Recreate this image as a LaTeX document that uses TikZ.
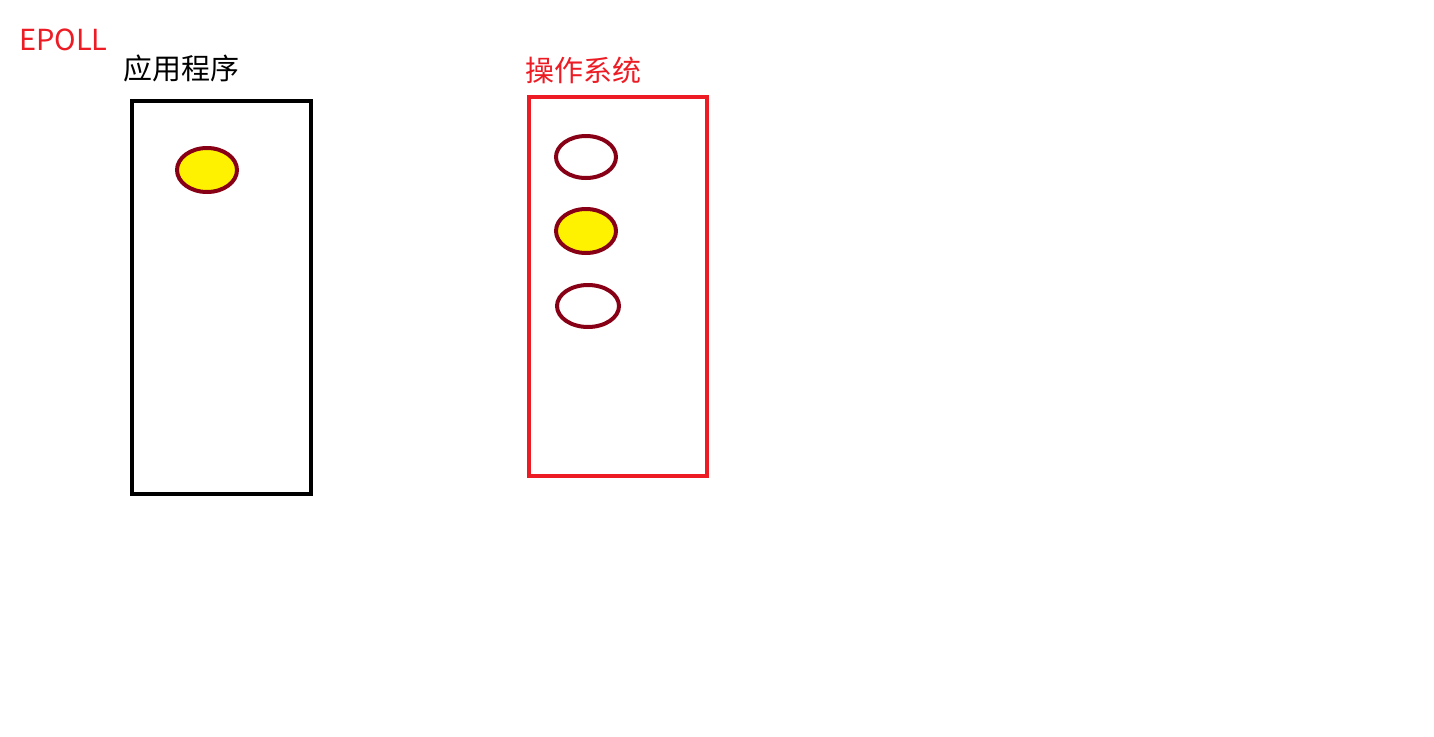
\documentclass[tikz,border=0pt]{standalone}
\usepackage{fontspec}
\usetikzlibrary{shapes.geometric}
\setmainfont{Noto Sans CJK SC}
\definecolor{pred}{HTML}{ED1C24}
\definecolor{dred}{HTML}{880015}
\definecolor{pyel}{HTML}{FFF200}
\begin{document}
\begin{tikzpicture}[x=1pt,y=-1pt,
  lbl/.style={inner sep=0pt,anchor=west,font=\fontsize{29}{31}\selectfont},
  box/.style={draw,line width=4.2pt,minimum width=179pt,inner sep=0pt,outer sep=0pt},
  dot/.style={ellipse,draw=dred,line width=4pt,inner sep=0pt,minimum width=60pt,minimum height=44pt}]
\useasboundingbox[fill=white] (0,0) rectangle (1434,736);
\node[lbl,text=pred] (epoll) at (19,40) {EPOLL};
\node[lbl] (app) at (123,68) {应用程序};
\node[lbl,text=pred] (os) at (525,70) {操作系统};
\node[box,draw=black,minimum height=393pt] (appbox) at (221.5,297.5) {};
\node[box,draw=pred,minimum width=178pt,minimum height=379pt] (osbox) at (618,286.5) {};
\node[dot,fill=pyel] (a1) at (207,170) {};
\node[dot,fill=white,minimum height=42pt] (o1) at (586,157) {};
\node[dot,fill=pyel] (o2) at (586,231) {};
\node[dot,fill=white,minimum height=42pt,minimum width=62pt] (o3) at (588,306) {};
\end{tikzpicture}
\end{document}
